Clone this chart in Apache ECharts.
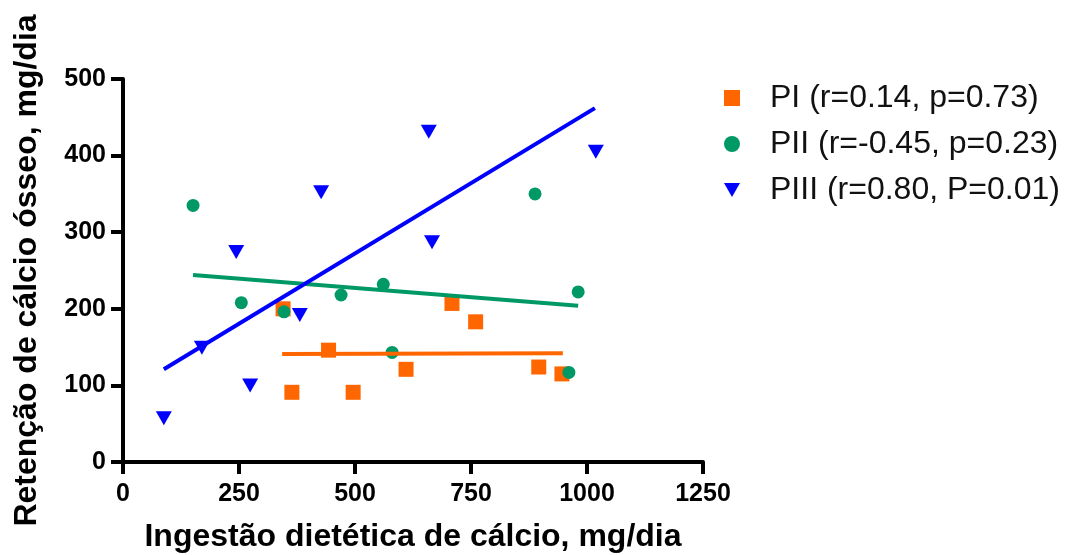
<!DOCTYPE html>
<html>
<head>
<meta charset="utf-8">
<script src="https://cdn.jsdelivr.net/npm/echarts@6/dist/echarts.min.js"></script>
<style>
  html, body { margin: 0; padding: 0; background: #fff; }
  #chart { width: 1072px; height: 555px; }
</style>
</head>
<body>
<div id="chart"></div>
<script>
// ingestão (x) e retenção (y), mg/dia
var pI = [[345, 200], [443, 146], [364, 91], [496, 91], [610, 121], [709, 207], [760, 183], [896, 124], [946, 115]];
var pII = [[151, 335], [255, 208], [347, 196], [470, 218], [561, 232], [580, 143], [888, 350], [981, 222], [961, 117]];
var pIII = [[88, 57], [170, 149], [244, 274], [274, 100], [381, 192], [427, 352], [659, 431], [666, 287], [1019, 405]];

// retas de regressão (extremos)
var fitI = [[343, 141], [948, 142]];
var fitII = [[151, 244], [981, 204]];
var fitIII = [[88, 121], [1017, 462]];

var names = ['PI (r=0.14, p=0.73)', 'PII (r=-0.45, p=0.23)', 'PIII (r=0.80, P=0.01)'];
var colors = ['#ff6600', '#009966', '#0000ff'];

var triDown = 'path://M0,0L2,0L1,1.75Z';

var myChart = echarts.init(document.getElementById('chart'));

var mainFont = "'Liberation Sans', Arial, sans-serif";

var option = {
    animation: false,
    grid: {
        left: 123,
        right: 369,
        top: 79,
        bottom: 93,
        outerBoundsMode: 'none'
    },
    legend: {
        orient: 'vertical',
        left: 724,
        top: 82,
        padding: 0,
        itemWidth: 16,
        itemHeight: 16,
        itemGap: 14,
        data: [
            { name: names[0], icon: 'rect' },
            { name: names[1], icon: 'circle' },
            { name: names[2], icon: triDown }
        ],
        textStyle: {
            fontFamily: mainFont,
            fontSize: 32,
            lineHeight: 31,
            color: '#111',
            padding: [0, 0, 0, 25]
        }
    },
    xAxis: {
        type: 'value',
        min: 0,
        max: 1250,
        interval: 250,
        name: 'Ingestão dietética de cálcio, mg/dia',
        nameLocation: 'middle',
        nameGap: 59,
        nameTextStyle: { fontFamily: mainFont, fontSize: 32, fontWeight: 'bold', color: '#000' },
        splitLine: { show: false },
        axisLine: { show: true, lineStyle: { color: '#000', width: 4 } },
        axisTick: { show: true, length: 12, lineStyle: { color: '#000', width: 4 } },
        axisLabel: {
            fontFamily: mainFont, fontSize: 25, fontWeight: 'bold', color: '#000', margin: 20,
            formatter: function (v) { return String(v); }
        }
    },
    yAxis: {
        type: 'value',
        min: 0,
        max: 500,
        interval: 100,
        name: 'Retenção de cálcio ósseo, mg/dia',
        nameLocation: 'middle',
        nameGap: 80,
        nameTextStyle: { fontFamily: mainFont, fontSize: 32, fontWeight: 'bold', color: '#000' },
        splitLine: { show: false },
        axisLine: { show: true, lineStyle: { color: '#000', width: 4 } },
        axisTick: { show: true, length: 12, lineStyle: { color: '#000', width: 4 } },
        axisLabel: {
            fontFamily: mainFont, fontSize: 25, fontWeight: 'bold', color: '#000', margin: 17,
            formatter: function (v) { return String(v); }
        }
    },
    series: [
        {
            name: 'fitI', type: 'line', data: fitI, symbol: 'none', silent: true,
            lineStyle: { color: colors[0], width: 4 }
        },
        {
            name: 'fitII', type: 'line', data: fitII, symbol: 'none', silent: true,
            lineStyle: { color: colors[1], width: 4 }
        },
        {
            name: 'fitIII', type: 'line', data: fitIII, symbol: 'none', silent: true,
            lineStyle: { color: colors[2], width: 4 }
        },
        {
            name: names[0], type: 'scatter', data: pI, symbol: 'rect', symbolSize: 15,
            itemStyle: { color: colors[0], opacity: 1 }
        },
        {
            name: names[1], type: 'scatter', data: pII, symbol: 'circle', symbolSize: 13,
            itemStyle: { color: colors[1], opacity: 1 }
        },
        {
            name: names[2], type: 'scatter', data: pIII, symbol: triDown, symbolSize: [16, 14],
            itemStyle: { color: colors[2], opacity: 1 }
        }
    ]
};

myChart.setOption(option);
</script>
</body>
</html>
